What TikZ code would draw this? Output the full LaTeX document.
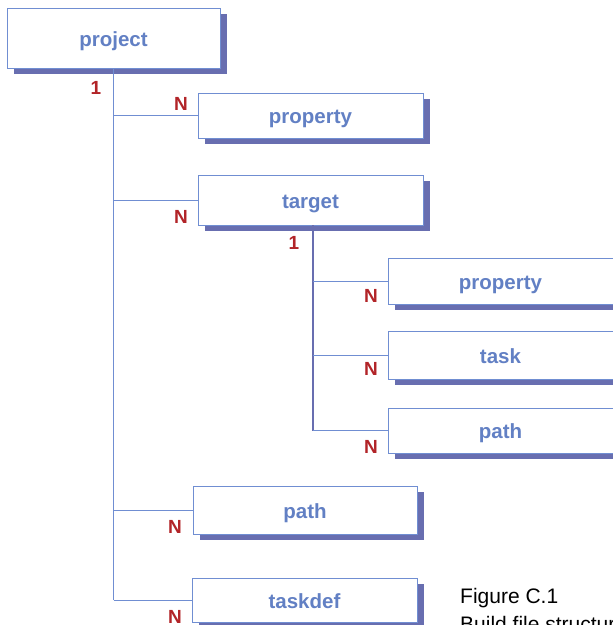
\documentclass[tikz,border=0pt]{standalone}
\usepackage{fontspec}
\setmainfont{Liberation Sans}
\usetikzlibrary{shadows}
\definecolor{bordc}{RGB}{112,142,210}
\definecolor{txtc}{RGB}{98,128,196}
\definecolor{shadc}{RGB}{104,110,176}
\definecolor{redc}{RGB}{178,36,40}
\begin{document}
\begin{tikzpicture}[x=1pt,y=-1pt,
  elem/.style={draw=bordc, line width=1pt, fill=white, inner sep=0pt,
    minimum width=225pt, text=txtc, text height=16pt, text depth=0pt,
    font=\fontsize{20.5}{22}\selectfont\bfseries,
    drop shadow={shadow xshift=7pt, shadow yshift=-6pt, fill=shadc, opacity=1}},
  conn/.style={draw=bordc, line width=1pt},
  card/.style={text=redc, font=\fontsize{19}{22}\selectfont\bfseries, inner sep=0pt},
  captext/.style={font=\fontsize{21}{28}\selectfont, text=black, inner sep=0pt, anchor=base west}]
\useasboundingbox (0,0) rectangle (613,625);
\clip (0,0) rectangle (613,625);
\fill[white] (0,0) rectangle (613,625);
\coordinate (tdown) at (313,225);
\node[elem, minimum width=213pt, minimum height=60pt] (project) at (113.5,38) {project};
\node[elem, minimum height=45pt] (prop1) at (310.5,115.5) {property};
\node[elem, minimum height=50pt] (target) at (310.5,200) {target};
\node[elem, minimum height=46pt] (iprop) at (500.5,281) {property};
\node[elem, minimum height=48pt] (task) at (500.5,355) {task};
\node[elem, minimum height=45pt] (ipath) at (500.5,430.5) {path};
\node[elem, minimum width=224pt, minimum height=48pt] (path) at (305,510) {path};
\node[elem, minimum height=44pt] (taskdef) at (304.5,600) {taskdef};
% main tree
\draw[conn] (project.south) -- (project.south |- taskdef.west);
\draw[conn] (project.south |- prop1.west) -- (prop1.west);
\draw[conn] (project.south |- target.west) -- (target.west);
\draw[conn] (project.south |- path.west) -- (path.west);
\draw[conn] (project.south |- taskdef.west) -- (taskdef.west);
% target subtree
\draw[conn, draw=shadc, line width=1.3pt] (tdown) -- (tdown |- ipath.west);
\draw[conn] (tdown |- iprop.west) -- (iprop.west);
\draw[conn] (tdown |- task.west) -- (task.west);
\draw[conn] (tdown |- ipath.west) -- (ipath.west);
% cardinalities
\node[card] (c1) at (96,88) {1};
\node[card] (n1) at (181,104) {N};
\node[card] (n2) at (181,217) {N};
\node[card] (c2) at (294,243) {1};
\node[card] (n3) at (371,296) {N};
\node[card] (n4) at (371,369) {N};
\node[card] (n5) at (371,447) {N};
\node[card] (n6) at (175,527) {N};
\node[card] (n7) at (175,617) {N};
% caption
\node[captext] (caption1) at (460,603) {Figure C.1};
\node[captext] (caption2) at (460,631) {Build file structure};
\end{tikzpicture}
\end{document}
